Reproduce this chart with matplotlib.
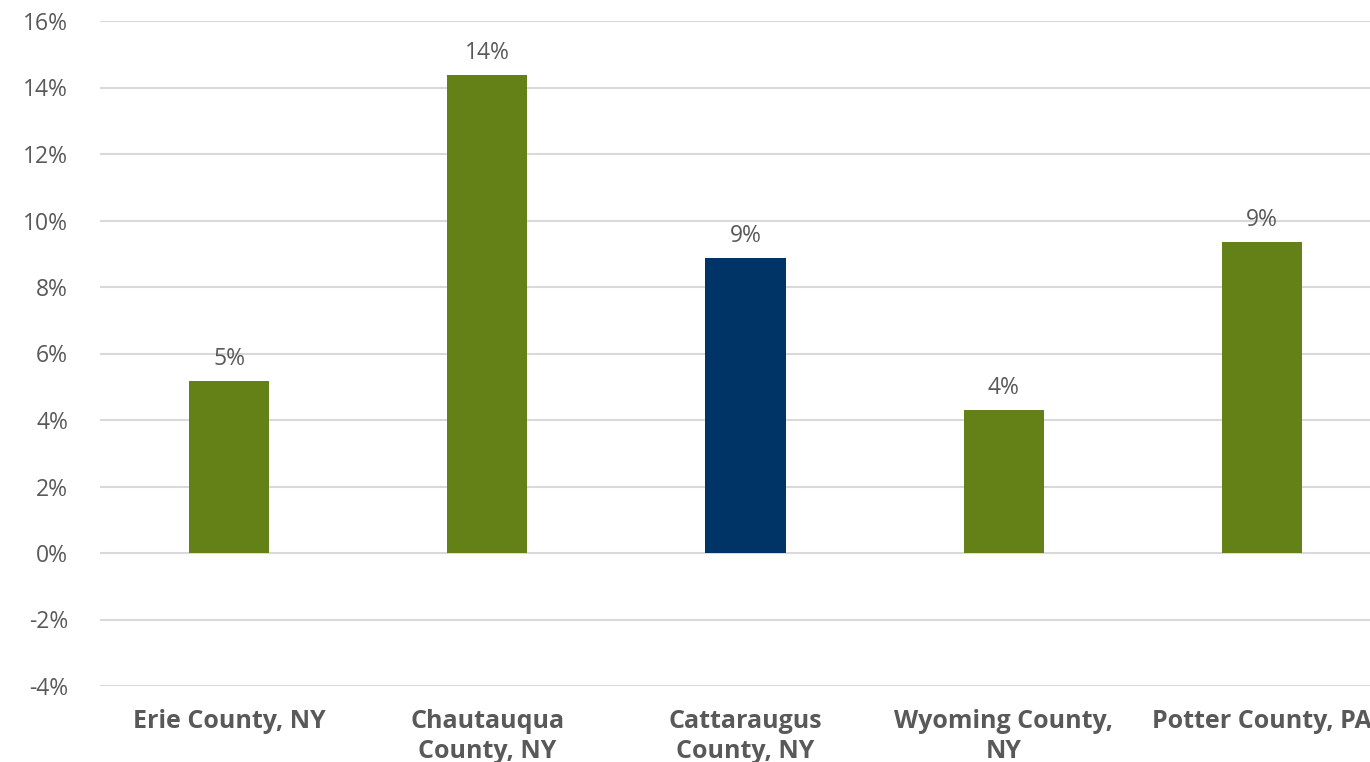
import matplotlib
matplotlib.use("Agg")
import matplotlib.pyplot as plt
from matplotlib.ticker import FuncFormatter

categories = ["Erie County, NY", "Chautauqua\nCounty, NY", "Cattaraugus\nCounty, NY",
              "Wyoming County,\nNY", "Potter County, PA"]
values = [5.17, 14.38, 8.87, 4.30, 9.35]
labels = ["5%", "14%", "9%", "4%", "9%"]
colors = ["#638116", "#638116", "#003366", "#638116", "#638116"]
yticks = [-4, -2, 0, 2, 4, 6, 8, 10, 12, 14, 16]

plt.rcParams['font.family'] = ['Open Sans', 'DejaVu Sans']
TXT = "#595959"

fig = plt.figure(figsize=(13.7, 7.62), dpi=100)
ax = fig.add_axes([100/1370, 76/762, 1291/1370, 665/762])

x = list(range(len(categories)))
bars = ax.bar(x, values, width=0.31, color=colors, zorder=3)
ax.set_xlim(-0.5, 4.5)
ax.set_ylim(-4, 16)
ax.set_yticks(yticks)
ax.yaxis.set_major_formatter(FuncFormatter(lambda v, p: f"{int(v)}%"))
ax.grid(axis='y', color="#d9d9d9", linewidth=1.5, zorder=0)
ax.set_axisbelow(True)
for s in ax.spines.values():
    s.set_visible(False)
ax.tick_params(axis='y', length=0, pad=23, labelsize=16.5, labelcolor=TXT)
ax.set_xticks(x)
ax.set_xticklabels(categories, fontsize=18, fontweight='bold', color=TXT, linespacing=1.25)
ax.tick_params(axis='x', length=0, pad=16.5)

for xi, v, lab in zip(x, values, labels):
    ax.annotate(lab, (xi, v), xytext=(0, 7), textcoords='offset points',
                ha='center', va='bottom', fontsize=16.5, color=TXT)

fig.savefig("out.png", dpi=100)
